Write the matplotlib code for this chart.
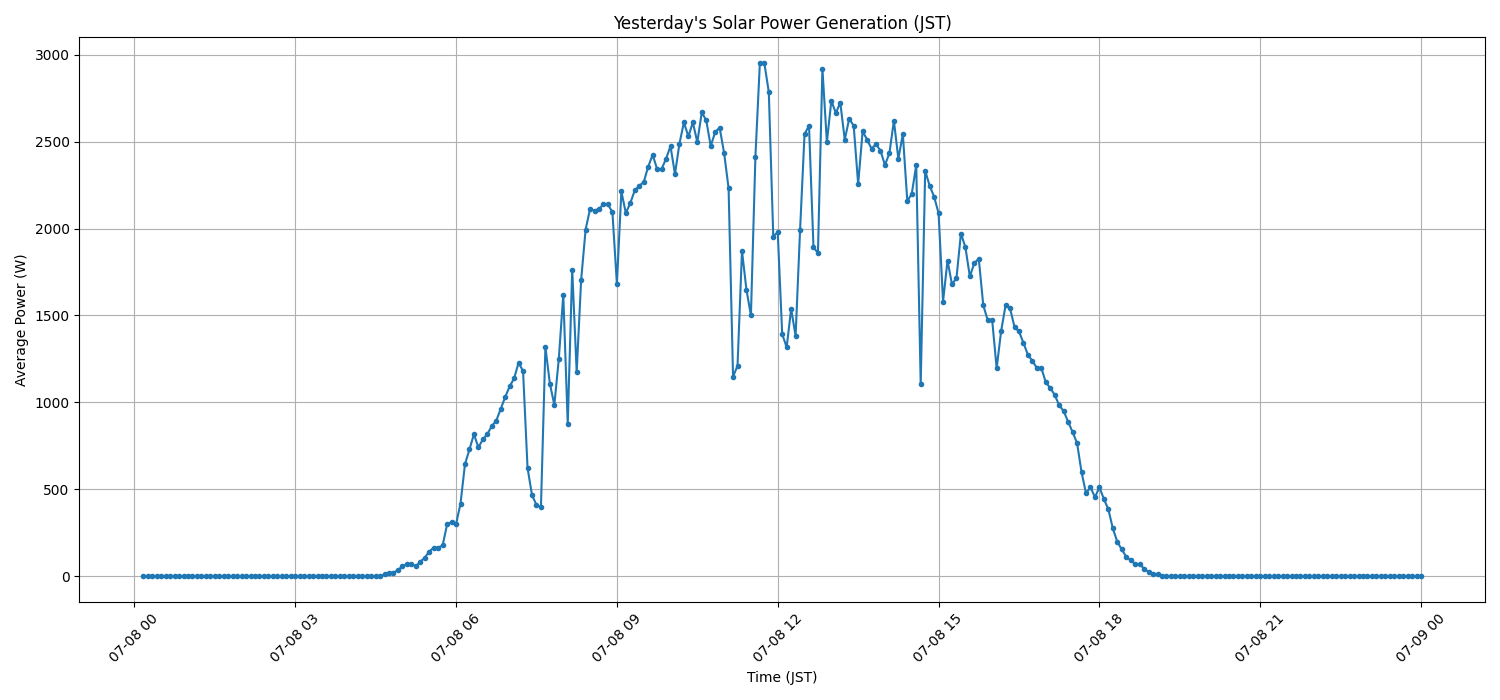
import numpy as np
import pandas as pd
import matplotlib
matplotlib.use("Agg")
import matplotlib.pyplot as plt
import matplotlib.dates as mdates

# 5-minute averages for 2024-07-08 (JST), first sample at 00:10, last at 24:00
start_time = "2024-07-08 00:10"
end_time = "2024-07-09 00:00"

# non-zero part of the day, starting at 04:40 (everything else is 0 W)
daylight_start = "2024-07-08 04:40"
daylight_power = [
    12, 21, 21, 35, 58, 69, 69, 58, 83, 107, 142, 165, 165, 177, 299, 311,
    299, 418, 645, 729, 817, 741, 787, 817, 864, 895, 962, 1031,
    1092, 1138, 1229, 1179, 623, 467, 410, 396, 1318, 1108, 985, 1250,
    1620, 876, 1763, 1175, 1705, 1994, 2113, 2103, 2113, 2139, 2139, 2093,
    1682, 2213, 2089, 2146, 2219, 2246, 2267, 2355, 2424, 2342, 2342, 2401,
    2474, 2313, 2488, 2610, 2530, 2610, 2497, 2668, 2622, 2474, 2555, 2580,
    2434, 2232, 1148, 1210, 1872, 1647, 1501, 2411, 2952, 2952, 2785, 1954,
    1979, 1392, 1317, 1538, 1382, 1992, 2543, 2591, 1893, 1858, 2919, 2497,
    2735, 2664, 2724, 2511, 2632, 2591, 2255, 2559, 2511, 2459, 2486, 2447,
    2365, 2434, 2620, 2401, 2543, 2157, 2200, 2365, 1104, 2332, 2246, 2183,
    2088, 1580, 1816, 1679, 1714, 1971, 1893, 1724, 1801, 1826, 1559, 1472,
    1472, 1196, 1410, 1559, 1540, 1433, 1408, 1342, 1273, 1238, 1198, 1198,
    1115, 1083, 1042, 983, 950, 888, 829, 765, 598, 477, 512, 454,
    512, 444, 385, 275, 198, 154, 112, 92, 69, 69, 44, 25,
    12, 12,
]

times = pd.date_range(start_time, end_time, freq="5min")
power = pd.Series(0.0, index=times)
day_idx = pd.date_range(daylight_start, periods=len(daylight_power), freq="5min")
power.loc[day_idx] = daylight_power

fig, ax = plt.subplots(figsize=(15, 7), dpi=100)
ax.plot(power.index, power.values, marker="o", markersize=3, linestyle="-")

ax.set_title("Yesterday's Solar Power Generation (JST)")
ax.set_xlabel("Time (JST)")
ax.set_ylabel("Average Power (W)")
ax.xaxis.set_major_locator(mdates.HourLocator(byhour=range(0, 24, 3)))
ax.xaxis.set_major_formatter(mdates.DateFormatter("%m-%d %H"))
plt.xticks(rotation=45)
ax.grid(True)

plt.tight_layout()
plt.savefig("out.png", dpi=100)
plt.close(fig)
